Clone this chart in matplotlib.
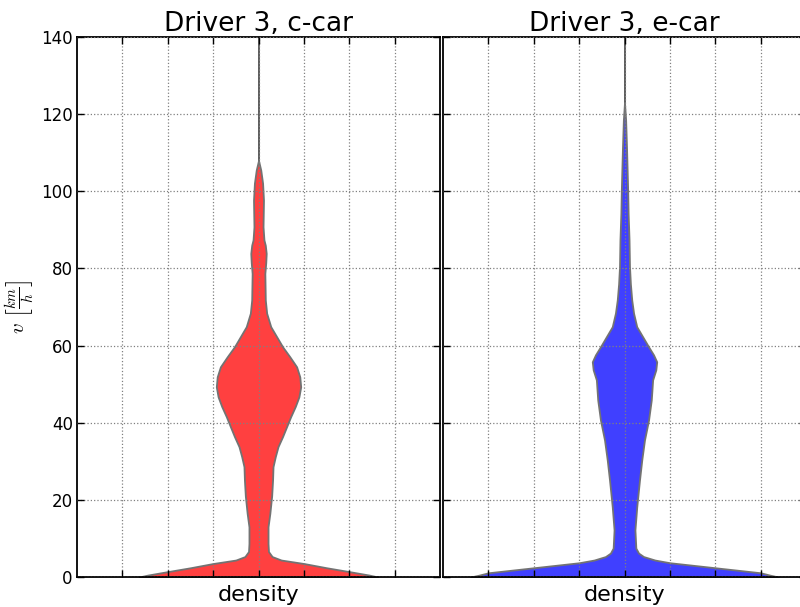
import numpy as np
import matplotlib
matplotlib.use('Agg')
import matplotlib.pyplot as plt

plt.rcParams['mathtext.fontset'] = 'cm'

# скорость v (км/ч) и полуширина скрипки (плотность)
v_c = [0, 0.5, 1.4, 2.4, 3.5, 4.4, 5.3, 6.6, 8.7, 13, 16.5, 21.0, 25.1, 28.6, 31.2, 33.8,
       36.4, 39.0, 41.6, 44.2, 46.7, 49.3, 51.9, 54.5, 57.1, 59.7, 62.3, 64.9, 68.4,
       71.8, 78.7, 81.5, 83.9, 86.0, 87.4, 90.8, 97.7, 102.1, 105.5, 108]
w_c = [2.63, 2.44, 2.0, 1.5, 1.0, 0.5, 0.3, 0.22, 0.21, 0.21, 0.25, 0.29, 0.31, 0.32, 0.37, 0.43,
       0.53, 0.62, 0.71, 0.81, 0.89, 0.93, 0.91, 0.84, 0.69, 0.53, 0.40, 0.27, 0.18,
       0.15, 0.14, 0.16, 0.17, 0.15, 0.12, 0.10, 0.11, 0.09, 0.05, 0.0]

v_e = [0, 0.5, 1.1, 2.4, 3.7, 4.4, 5.3, 6.2, 7.5, 12.2, 18.2, 25.1, 30.3, 35.5, 40.7,
       45.9, 51.1, 53.7, 55.8, 57.6, 59.7, 62.3, 64.9, 68.4, 71.8, 76.0, 80.5, 87.4,
       94.3, 100.3, 104.7, 111.6, 118.5, 123]
w_e = [3.39, 3.2, 3.0, 2.0, 1.0, 0.67, 0.42, 0.31, 0.25, 0.23, 0.27, 0.33, 0.38, 0.44, 0.53,
       0.59, 0.62, 0.69, 0.71, 0.64, 0.53, 0.40, 0.27, 0.20, 0.16, 0.13, 0.11, 0.10,
       0.08, 0.07, 0.06, 0.044, 0.025, 0.0]

titles = ['Driver 3, c-car', 'Driver 3, e-car']
colors = ['#ff4040', '#4040ff']
y_ticks = [0, 20, 40, 60, 80, 100, 120, 140]

fig = plt.figure(figsize=(8, 6.07), dpi=100)
ax1 = fig.add_axes([0.09625, 0.0494, 0.45375, 0.8896])
ax2 = fig.add_axes([0.55375, 0.0494, 0.45375, 0.8896], sharey=ax1)

for ax, v, w, col, title in [(ax1, v_c, w_c, colors[0], titles[0]),
                             (ax2, v_e, w_e, colors[1], titles[1])]:
    v = np.array(v)
    w = np.array(w)
    ax.axvline(0, color='#404040', lw=1.2, zorder=0.5)
    ax.fill_betweenx(v, -w, w, facecolor=col, edgecolor='0.45', lw=1.3,
                     joinstyle='round', zorder=1)
    ax.set_xlim(-4, 4)
    ax.set_ylim(0, 140)
    ax.set_xticks([-3, -2, -1, 0, 1, 2, 3])
    ax.set_xticklabels([])
    ax.set_yticks(y_ticks)
    ax.set_axisbelow(False)
    ax.grid(True, color='0.5', linestyle=':', lw=0.9)
    ax.tick_params(direction='in', length=5, width=1, top=True, right=True,
                   labelsize=12, pad=3)
    for s in ax.spines.values():
        s.set_linewidth(1.3)
    ax.set_title(title, fontsize=19, pad=4)
    ax.set_xlabel('density', fontsize=16, labelpad=3)

plt.setp(ax2.get_yticklabels(), visible=False)
ax1.set_ylabel(r'$v\ \left[\frac{km}{h}\right]$', fontsize=15)

plt.savefig('out.png', dpi=100)
